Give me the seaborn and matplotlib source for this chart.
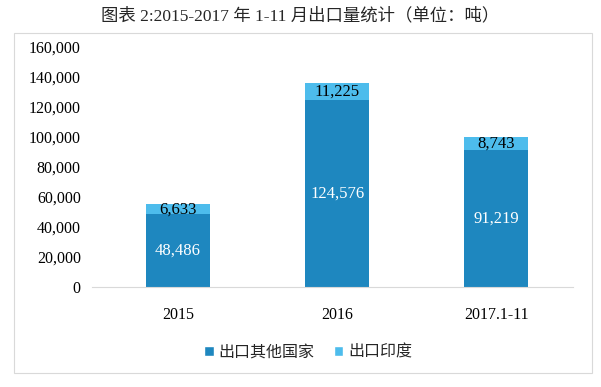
import matplotlib
matplotlib.use('Agg')
import matplotlib.pyplot as plt
import seaborn as sns
import pandas as pd
from matplotlib.patches import Rectangle, Patch

# data
years = ['2015', '2016', '2017.1-11']
other_countries = [48486, 124576, 91219]
india = [6633, 11225, 8743]
title = '图表 2:2015-2017 年 1-11 月出口量统计（单位：吨）'
series_names = ['出口其他国家', '出口印度']

dark_blue = '#1E87BF'
light_blue = '#4DBCEC'

sns.set_style('white')
plt.rcParams['font.family'] = ['Liberation Serif', 'Noto Sans CJK SC']

df = pd.DataFrame({'year': years, 'other': other_countries, 'india': india})
df['total'] = df['other'] + df['india']

fig = plt.figure(figsize=(6.01, 3.87), dpi=100)
ax = fig.add_axes([0.153, 0.258, 0.80, 0.621])

# stacked bars: total first (light), then the lower part (dark) on top
sns.barplot(data=df, x='year', y='total', color=light_blue, width=0.4,
            saturation=1, linewidth=0, ax=ax)
sns.barplot(data=df, x='year', y='other', color=dark_blue, width=0.4,
            saturation=1, linewidth=0, ax=ax)

for i, row in df.iterrows():
    ax.text(i, row['other'] / 2, f"{row['other']:,}", ha='center', va='center',
            color='white', fontsize=12)
    ax.text(i, row['other'] + row['india'] / 2, f"{row['india']:,}",
            ha='center', va='center', color='black', fontsize=12)

ax.set_ylim(0, 160000)
ax.set_xlim(-0.54, 2.48)
ax.set_yticks(range(0, 160001, 20000))
ax.set_yticklabels([f'{v:,}' for v in range(0, 160001, 20000)])
ax.tick_params(axis='both', length=0, labelsize=11.5, colors='black')
ax.tick_params(axis='x', pad=14)
ax.tick_params(axis='y', pad=8)
ax.set_xlabel('')
ax.set_ylabel('')
for s in ['top', 'right', 'left']:
    ax.spines[s].set_visible(False)
ax.spines['bottom'].set_color('#D9D9D9')
ax.spines['bottom'].set_linewidth(0.8)

handles = [Patch(facecolor=dark_blue, label=series_names[0]),
           Patch(facecolor=light_blue, label=series_names[1])]
fig.legend(handles=handles, loc='center', bbox_to_anchor=(0.513, 0.088),
           ncol=2, frameon=False, fontsize=11.5, handlelength=0.6,
           handleheight=0.6, handletextpad=0.3, columnspacing=1.2)

# outer chart border
fig.patches.append(Rectangle((0.023, 0.035), 0.962, 0.88, transform=fig.transFigure,
                             fill=False, edgecolor='#D9D9D9', linewidth=0.8))

fig.text(0.5, 0.958, title, ha='center', va='center', fontsize=12.5)

fig.savefig('out.png', dpi=100)
